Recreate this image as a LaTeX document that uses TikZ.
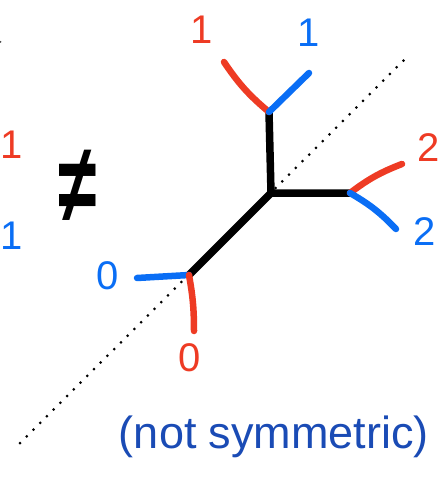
\documentclass[tikz,border=0pt]{standalone}
\usepackage{fontspec}
\usepackage{graphicx}
\setmainfont{Liberation Sans}
\definecolor{legred}{HTML}{EE3B24}
\definecolor{legblue}{HTML}{0A6EF5}
\definecolor{noteblue}{HTML}{1A4BB5}

\begin{document}
\begin{tikzpicture}[x=1pt,y=-1pt,
      edge/.style={line width=7.5pt,line cap=round,line join=round},
      redleg/.style={legred,line width=6.5pt,line cap=round},
      blueleg/.style={legblue,line width=6.5pt,line cap=round},
      diag/.style={line width=3pt,line cap=round,dash pattern=on 0pt off 9.5pt},
      wt/.style={font=\fontsize{40}{40}\selectfont,inner sep=0pt}]
    \useasboundingbox (0,0) rectangle (447,478);
    % vertices of the curve
    \coordinate (top) at (269,112);
    \coordinate (mid) at (271,193);
    \coordinate (rgt) at (350,193);
    \coordinate (low) at (189,275);
    \coordinate (diagA) at (20,443);
    \coordinate (diagB) at (404,60);
    % ends of the legs
    \coordinate (topr) at (224,62);
    \coordinate (topb) at (309,73);
    \coordinate (rgtr) at (402,164);
    \coordinate (rgtb) at (396,229);
    \coordinate (lowb) at (137,278);
    \coordinate (lowr) at (194,331);
    \draw[diag] (diagA)--(diagB);
    \draw[edge] (top)--(mid)--(rgt);
    \draw[edge] (mid)--(low);
    \draw[redleg] (top) to[bend left=8] (topr);
    \draw[blueleg] (top)--(topb);
    \draw[redleg] (rgt) to[bend left=8] (rgtr);
    \draw[blueleg] (rgt) to[bend left=8] (rgtb);
    \draw[blueleg] (low)--(lowb);
    \draw[redleg] (low) to[bend left=5] (lowr);
    % weights
    \node[wt,legred] (w1r) at (202,30) {1};
    \node[wt,legblue] (w1b) at (309,33) {1};
    \node[wt,legred] (w2r) at (429,148) {2};
    \node[wt,legblue] (w2b) at (425,232) {2};
    \node[wt,legblue] (w0b) at (108,276) {0};
    \node[wt,legred] (w0r) at (190,358) {0};
    \node[wt,legred] (e1r) at (12,145) {1};
    \node[wt,legblue] (e1b) at (12,236) {1};
    \fill[black!70] (0.5,42) circle (1pt);
    \node[inner sep=0pt,font=\fontsize{70}{70}\selectfont\bfseries] (neq) at (78,186) {\scalebox{1}[1.6]{≠}};
    \node[inner sep=0pt,noteblue,font=\fontsize{45}{45}\selectfont] (note) at (274,437) {(not symmetric)};
  \end{tikzpicture}
\end{document}
